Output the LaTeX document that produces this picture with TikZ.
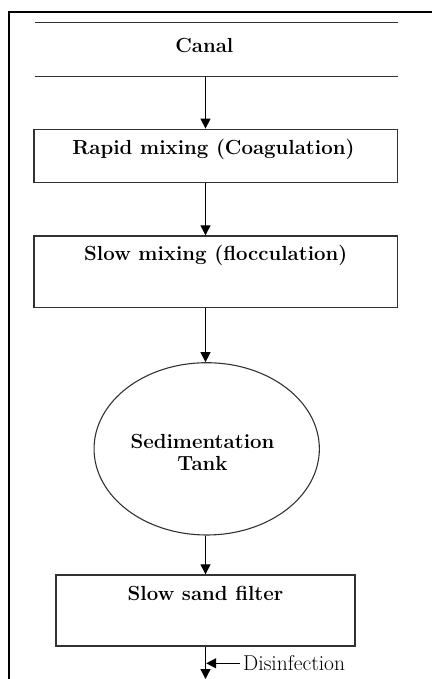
\documentclass[tikz,border=0pt]{standalone}
\usepackage{fontspec}
\usetikzlibrary{arrows.meta,shapes.geometric}
\definecolor{boxline}{RGB}{50,50,50}
\tikzset{
  boxnode/.style={draw=boxline, line width=1.4pt, inner sep=0pt},
  ellnode/.style={ellipse, draw=boxline, line width=1.1pt, inner sep=0pt},
  btext/.style={inner sep=0pt, anchor=base, font=\fontsize{20.4}{22}\selectfont\bfseries},
  rtext/.style={inner sep=0pt, anchor=base west, font=\fontsize{21.5}{22}\selectfont},
  arr/.style={-{Triangle[length=10pt,width=10pt]}, line width=1.3pt, black},
  rule/.style={line width=1.3pt, boxline},
  frame/.style={line width=2.5pt, black}
}
\begin{document}
\begin{tikzpicture}[x=1pt,y=-1pt]
\useasboundingbox (0,0) rectangle (432,679);
% outer frame (left and top)
\draw[frame] (9,679) -- (9,12) -- (432,12);
% canal band
\node[inner sep=0pt, minimum width=363pt, minimum height=53.5pt] (canal) at (216.5,49.25) {};
\draw[rule] (canal.north west) -- (canal.north east);
\draw[rule] (canal.south west) -- (canal.south east);
\node[btext] (canalT) at (204.3,52.7) {Canal};
% boxes
\node[boxnode, minimum width=363.7pt, minimum height=53pt] (b1) at (215.85,155.8) {};
\node[btext] (b1T) at (213.4,154) {Rapid mixing (Coagulation)};
\node[boxnode, minimum width=363.7pt, minimum height=71.3pt] (b2) at (215.85,271.65) {};
\node[btext] (b2T) at (215.8,260.7) {Slow mixing (flocculation)};
\node[ellnode, minimum width=225.3pt, minimum height=172.3pt] (ell) at (206.7,448.85) {};
\node[btext] (ellT1) at (202.5,448) {Sedimentation};
\node[btext] (ellT2) at (202.5,470) {Tank};
\node[boxnode, minimum width=299pt, minimum height=71pt] (b3) at (205.5,610.5) {};
\node[btext] (b3T) at (205.5,600) {Slow sand filter};
% connectors
\coordinate (ax) at (205.5,0);
\draw[arr] (canal.south -| ax) -- (b1.north -| ax);
\draw[arr] (b1.south -| ax) -- (b2.north -| ax);
\draw[arr] (b2.south -| ax) -- (ell.north -| ax);
\draw[arr] (ell.south -| ax) -- (b3.north -| ax);
\coordinate (out) at (205.5,679);
\draw[arr] (b3.south -| ax) -- (out);
\node[rtext] (dis) at (243,670) {Disinfection};
\coordinate (dj) at (206.2,663.3);
\draw[arr] ([xshift=-3pt]dis.west |- dj) -- (dj);
\end{tikzpicture}
\end{document}
